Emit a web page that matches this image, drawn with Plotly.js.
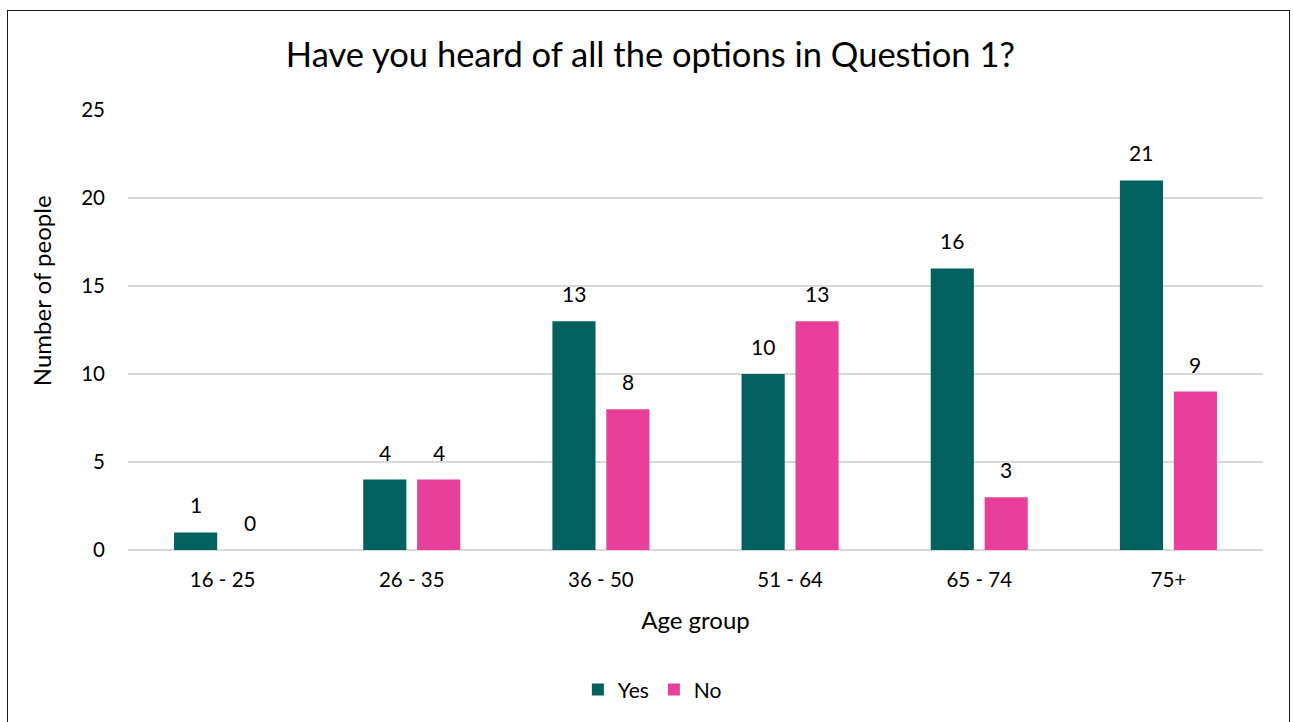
<!DOCTYPE html>
<html><head><meta charset="utf-8">
<script src="https://cdn.plot.ly/plotly-3.0.1.min.js"></script>
<style>
html,body{margin:0;padding:0;background:#fff;}
#wrap{position:relative;width:1293px;height:722px;overflow:hidden;}
#chart{position:absolute;left:0;top:0;width:1293px;height:722px;}
#frame{position:absolute;left:7px;top:10px;width:1281px;height:730px;border:1.5px solid #1a1a1a;pointer-events:none;}
</style></head>
<body><div id="wrap"><div id="chart"></div><div id="frame"></div></div>
<script>
const categories = ['16 - 25','26 - 35','36 - 50','51 - 64','65 - 74','75+'];
const yesValues = [1, 4, 13, 10, 16, 21];
const noValues = [0, 4, 8, 13, 3, 9];
const seriesNames = ['Yes','No'];
const yTickVals = [0,5,10,15,20,25];

const FONT = 'Lato, "Open Sans", sans-serif';
const teal = '#02605E';
const pink = '#E8409A';

const traces = [
  {type:'bar', name:seriesNames[0], x:categories, y:yesValues, marker:{color:teal}, hoverinfo:'x+y'},
  {type:'bar', name:seriesNames[1], x:categories, y:noValues, marker:{color:pink}, hoverinfo:'x+y'}
];

const annotations = [];
[[yesValues,-27],[noValues,27]].forEach(([vals,dx])=>{
  vals.forEach((v,i)=>{
    annotations.push({x:categories[i], y:v, xref:'x', yref:'y', text:String(v), showarrow:false,
      xshift:dx, yshift:13, yanchor:'bottom', font:{family:FONT,size:21,color:'#000'}});
  });
});
annotations.push({xref:'paper', yref:'paper', x:-0.076, y:0.59, xanchor:'center', yanchor:'middle',
  text:'Number of people', textangle:-90, showarrow:false, font:{family:FONT,size:24,color:'#000'}});

const layout = {
  width:1293, height:722,
  margin:{l:128, r:30, t:110, b:168},
  paper_bgcolor:'#fff', plot_bgcolor:'#fff',
  title:{text:'Have you heard of all the options in Question 1?', x:0.503, xanchor:'center', y:0.924, yanchor:'middle',
    font:{family:FONT, size:34.5, color:'#000'}},
  barmode:'group', bargap:0.43, bargroupgap:0.2,
  xaxis:{type:'category', tickfont:{family:FONT,size:20.5,color:'#000'}, ticks:'', showline:false,
    ticklabelstandoff:15,
    title:{text:'Age group', font:{family:FONT,size:24,color:'#000'}, standoff:22}, fixedrange:true},
  yaxis:{range:[0,25], tickvals:yTickVals, ticks:'', showline:false, gridcolor:'#D9D9D9', gridwidth:1.5,
    zeroline:true, zerolinecolor:'#D9D9D9', zerolinewidth:1.5,
    tickfont:{family:FONT,size:20.5,color:'#000'}, ticklabelstandoff:22, fixedrange:true},
  showlegend:true,
  legend:{orientation:'h', x:0.462, xanchor:'center', y:-0.318, yanchor:'middle',
    font:{family:FONT,size:21,color:'#000'}, itemwidth:30, traceorder:'normal'},
  annotations:annotations
};
Plotly.newPlot('chart', traces, layout, {displayModeBar:false, staticPlot:true});
</script></body></html>
